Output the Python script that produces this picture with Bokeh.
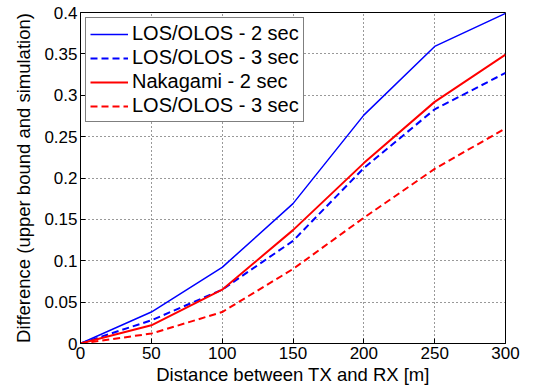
from bokeh.plotting import figure
from bokeh.models import Legend, LegendItem, FixedTicker, Range1d
from bokeh.embed import file_html
from bokeh.resources import INLINE

distance = [0, 50, 100, 150, 200, 250, 300]
los_2s = [0, 0.038, 0.092, 0.169, 0.276, 0.359, 0.399]
los_3s = [0, 0.028, 0.065, 0.124, 0.212, 0.283, 0.327]
nak_2s = [0, 0.022, 0.065, 0.137, 0.218, 0.292, 0.349]
los_3s_b = [0, 0.012, 0.038, 0.090, 0.152, 0.211, 0.260]

labels = ["LOS/OLOS - 2 sec", "LOS/OLOS - 3 sec", "Nakagami - 2 sec", "LOS/OLOS - 3 sec"]

x_ticks = [0, 50, 100, 150, 200, 250, 300]
x_tick_labels = ["0", "50", "100", "150", "200", "250", "300"]
y_ticks = [0, 0.05, 0.1, 0.15, 0.2, 0.25, 0.3, 0.35, 0.4]
y_tick_labels = ["0", "0.05", "0.1", "0.15", "0.2", "0.25", "0.3", "0.35", "0.4"]

FONT = "Liberation Sans"

p = figure(width=536, height=391, output_backend="svg", toolbar_location=None,
           x_range=Range1d(0, 300), y_range=Range1d(0, 0.4),
           min_border_left=80, min_border_right=31, min_border_top=12, min_border_bottom=48)
p.background_fill_color = "white"
p.border_fill_color = "white"
p.outline_line_color = "black"
p.outline_line_width = 1

r1 = p.line(distance, los_2s, line_color="#0000ff", line_width=1.5)
r2 = p.line(distance, los_3s, line_color="#0000ff", line_width=2, line_dash="7 4")
r3 = p.line(distance, nak_2s, line_color="#ff0000", line_width=2)
r4 = p.line(distance, los_3s_b, line_color="#ff0000", line_width=2, line_dash="7 4")

for ax, ticks, tlabels in ((p.xaxis[0], x_ticks, x_tick_labels), (p.yaxis[0], y_ticks, y_tick_labels)):
    ax.ticker = FixedTicker(ticks=ticks)
    ax.major_label_overrides = {t: l for t, l in zip(ticks, tlabels)}
    ax.major_label_text_font = FONT
    ax.major_label_text_font_size = "17px"
    ax.major_label_text_color = "black"
    ax.axis_label_text_font = FONT
    ax.axis_label_text_font_size = "18.5px"
    ax.axis_label_text_font_style = "normal"
    ax.axis_label_text_color = "black"
    ax.axis_line_color = "black"
    ax.major_tick_in = 5
    ax.major_tick_out = 0
    ax.minor_tick_line_color = None
    ax.major_tick_line_color = "black"

p.xaxis.axis_label = "Distance between TX and RX [m]"
p.yaxis.axis_label = "Difference (upper bound and simulation)"
p.xaxis.axis_label_standoff = 2
p.yaxis.axis_label_standoff = 7
p.xaxis.major_label_standoff = 3
p.yaxis.major_label_standoff = 3

p.xgrid.grid_line_color = "black"
p.ygrid.grid_line_color = "black"
p.xgrid.grid_line_dash = "1 3"
p.ygrid.grid_line_dash = "1 3"
p.xgrid.grid_line_alpha = 0.8
p.ygrid.grid_line_alpha = 0.8

legend = Legend(items=[LegendItem(label=labels[0], renderers=[r1]),
                       LegendItem(label=labels[1], renderers=[r2]),
                       LegendItem(label=labels[2], renderers=[r3]),
                       LegendItem(label=labels[3], renderers=[r4])],
                location="top_left")
legend.label_text_font = FONT
legend.label_text_font_size = "20px"
legend.label_text_color = "black"
legend.border_line_color = "black"
legend.border_line_width = 1
legend.background_fill_alpha = 1
legend.glyph_width = 38
legend.glyph_height = 20
legend.label_height = 20
legend.spacing = 1
legend.padding = 4
legend.margin = 5
legend.label_standoff = 4
p.add_layout(legend)

open("out.html", "w").write(file_html(p, INLINE))
